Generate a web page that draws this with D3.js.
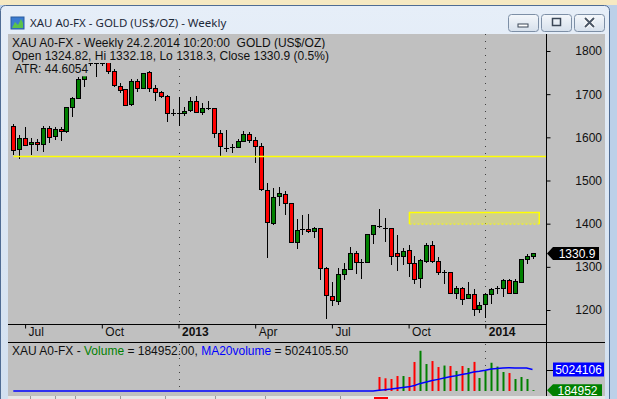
<!DOCTYPE html>
<html>
<head>
<meta charset="utf-8">
<script src="https://cdnjs.cloudflare.com/ajax/libs/d3/7.8.5/d3.min.js"></script>
<style>
body { margin: 0; background: #ffffff; }
svg { display: block; }
text { font-family: "Liberation Sans", Arial, sans-serif; font-size: 12px; }
</style>
</head>
<body>
<div id="chart"></div>
<script>
// weekly gold bars, first week starts Monday 18 June 2012
var firstWeek = "2012-06-18";
var opens = [1626, 1572, 1598, 1585, 1589, 1585, 1622, 1603, 1619, 1614,
             1670, 1690, 1735, 1770, 1774, 1772, 1780, 1754, 1720, 1711,
             1677, 1730, 1714, 1751, 1714, 1704, 1695, 1657, 1656, 1656,
             1663, 1684, 1658, 1667, 1667, 1609, 1578, 1576, 1577, 1591,
             1608, 1593, 1580, 1478, 1401, 1465, 1468, 1447, 1357, 1386,
             1387, 1382, 1389, 1297, 1233, 1220, 1283, 1294, 1331, 1312,
             1312, 1375, 1396, 1392, 1389, 1331, 1324, 1340, 1310, 1275,
             1314, 1350, 1314, 1287, 1288, 1240, 1250, 1228, 1236, 1202,
             1213, 1236, 1250, 1252, 1269, 1240, 1264, 1318, 1324.82];
var highs = [1631, 1605, 1623, 1598, 1596, 1626, 1626, 1625, 1625, 1671,
             1693, 1739, 1777, 1788, 1787, 1796, 1792, 1758, 1725, 1713,
             1735, 1735, 1750, 1753, 1721, 1707, 1697, 1665, 1693, 1670,
             1693, 1695, 1680, 1684, 1669, 1617, 1617, 1584, 1596, 1615,
             1612, 1600, 1588, 1494, 1482, 1484, 1476, 1448, 1411, 1420,
             1422, 1393, 1390, 1300, 1266, 1297, 1310, 1347, 1337, 1318,
             1376, 1397, 1433, 1412, 1391, 1374, 1343, 1351, 1326, 1318,
             1355, 1361, 1322, 1293, 1289, 1256, 1253, 1265, 1248, 1219,
             1240, 1250, 1255, 1271, 1271, 1271, 1319, 1330, 1332.18];
var lows = [1559, 1549, 1580, 1560, 1569, 1565, 1586, 1594, 1592, 1611,
            1648, 1688, 1717, 1765, 1740, 1765, 1747, 1717, 1702, 1673,
            1673, 1706, 1711, 1705, 1685, 1692, 1636, 1650, 1627, 1650,
            1659, 1656, 1652, 1663, 1598, 1555, 1565, 1563, 1575, 1589,
            1588, 1540, 1476, 1321, 1398, 1441, 1420, 1356, 1341, 1374,
            1379, 1367, 1270, 1180, 1210, 1212, 1270, 1293, 1283, 1272,
            1311, 1353, 1391, 1358, 1304, 1291, 1304, 1276, 1260, 1251,
            1310, 1308, 1281, 1260, 1237, 1225, 1211, 1225, 1187, 1194,
            1182, 1214, 1236, 1231, 1238, 1239, 1263, 1307, 1318.3];
var closes = [1570, 1598, 1582, 1589, 1585, 1622, 1600, 1619, 1614, 1670,
              1690, 1735, 1770, 1773, 1772, 1780, 1753, 1721, 1709, 1676,
              1730, 1714, 1748, 1714, 1704, 1695, 1656, 1656, 1656, 1662,
              1684, 1658, 1667, 1667, 1609, 1581, 1575, 1577, 1591, 1608,
              1593, 1581, 1480, 1405, 1461, 1470, 1447, 1358, 1385, 1387,
              1382, 1390, 1297, 1234, 1223, 1283, 1295, 1331, 1312, 1312,
              1375, 1396, 1395, 1390, 1324, 1324, 1336, 1310, 1271, 1315,
              1350, 1314, 1287, 1288, 1240, 1250, 1226, 1236, 1202, 1211,
              1236, 1248, 1251, 1269, 1240, 1267, 1318, 1324, 1330.9];

// volume is only reported from bar 62 on, earlier weeks are empty
var volumeFrom = 62;
var volumes = [3270000, 2970000, 2800000, 3500000, 3500000, 3270000, 6780000,
               9400000, 6300000, 7000000, 5600000, 5950000, 5840000, 4670000,
               5840000, 5370000, 6800000, 3040000, 4670000, 6600000, 5700000,
               4440000, 4200000, 2800000, 3270000, 2807158, 184952];

var priceTicks = [1200, 1300, 1400, 1500, 1600, 1700, 1800];
var dateTicks = ["2012-07-02", "2012-10-01", "2012-12-31", "2013-04-01",
                 "2013-07-01", "2013-09-30", "2013-12-30"];
var dateLabels = ["Jul", "Oct", "2013", "Apr", "Jul", "Oct", "2014"];
var yearStarts = ["2012-12-31", "2013-12-30"];

var supportLevel = 1556;
var zone = {from: "2013-10-01", to: "2014-03-04", top: 1426, bottom: 1399};

var parse = d3.timeParse("%Y-%m-%d");

var W = 617, H = 399;
var plotLeft = 8, axisX = 546, plotTop = 34, plotBottom = 324;
var dateBottom = 342, volBottom = 396;

var svg = d3.select("#chart").append("svg")
    .attr("width", W)
    .attr("height", H);

var weeks = opens.map(function (o, i) { return d3.timeMonday.offset(parse(firstWeek), i); });
var bars = opens.map(function (o, i) {
    var v = i >= volumeFrom ? volumes[i - volumeFrom] : 0;
    return {date: weeks[i], open: o, high: highs[i], low: lows[i], close: closes[i], volume: v};
});
bars.forEach(function (d, i) {
    var sum = 0;
    for (var k = Math.max(0, i - 19); k <= i; ++k) sum += bars[k].volume;
    d.ma = sum / 20;
});

var x = d3.scaleTime()
    .domain([weeks[0], weeks[weeks.length - 1]])
    .range([13.3, 532.5]);
var y = d3.scaleLinear()
    .domain([1200, 1800])
    .range([310, 51]);
var yv = d3.scaleLinear()
    .domain([0, 5024106])
    .range([391, 369.5]);

function px(v) { return Math.round(v) + 0.5; }

function drawWindow() {
    var defs = svg.append("defs");
    var tg = defs.append("linearGradient").attr("id", "titleGrad")
        .attr("x1", 0).attr("y1", 0).attr("x2", 0).attr("y2", 1);
    tg.append("stop").attr("offset", "0%").attr("stop-color", "#e6eef8");
    tg.append("stop").attr("offset", "100%").attr("stop-color", "#d2e0f0");
    var bg = defs.append("linearGradient").attr("id", "btnGrad")
        .attr("x1", 0).attr("y1", 0).attr("x2", 0).attr("y2", 1);
    bg.append("stop").attr("offset", "0%").attr("stop-color", "#f4f7fb");
    bg.append("stop").attr("offset", "100%").attr("stop-color", "#d6e0ec");

    // desktop behind the window
    svg.append("rect").attr("x", 0).attr("y", 0).attr("width", W).attr("height", H)
        .attr("fill", "#bcd0e8");
    svg.append("rect").attr("x", 0).attr("y", 0).attr("width", W).attr("height", 5)
        .attr("fill", "#f6e9c2");
    svg.append("rect").attr("x", 0.5).attr("y", 5.5).attr("width", 609).attr("height", H)
        .attr("rx", 5)
        .attr("fill", "url(#titleGrad)")
        .attr("stroke", "#4f6c94");

    // icon
    svg.append("rect").attr("x", 11).attr("y", 17).attr("width", 13).attr("height", 12)
        .attr("fill", "#3b7bd0").attr("stroke", "#2b5d9e");
    svg.append("path").attr("d", "M12,28 L15,22 L18,25 L21,19 L23,23 L23,28 Z")
        .attr("fill", "#5cc24a");
    svg.append("text").attr("x", 30).attr("y", 27)
        .style("font-family", "'Noto Sans', sans-serif").style("font-size", "11.5px")
        .attr("fill", "#1e2a3a")
        .text("XAU A0-FX - GOLD (US$/OZ) - Weekly");

    var buttons = [508, 541, 574];
    buttons.forEach(function (bx, k) {
        svg.append("rect").attr("x", bx + 0.5).attr("y", 14.5).attr("width", 30).attr("height", 17)
            .attr("rx", 3).attr("fill", "url(#btnGrad)").attr("stroke", "#7d8fa6");
        if (k == 0) {
            svg.append("rect").attr("x", bx + 10).attr("y", 24).attr("width", 10).attr("height", 3)
                .attr("fill", "#fff").attr("stroke", "#3a4656");
        } else if (k == 1) {
            svg.append("rect").attr("x", bx + 11.5).attr("y", 18.5).attr("width", 8).attr("height", 7)
                .attr("fill", "none").attr("stroke", "#3a4656").attr("stroke-width", 1.5);
        } else {
            svg.append("path").attr("d", "M" + (bx + 11) + ",18 L" + (bx + 20) + ",27 M" + (bx + 20) + ",18 L" + (bx + 11) + ",27")
                .attr("stroke", "#fff").attr("stroke-width", 4);
            svg.append("path").attr("d", "M" + (bx + 11) + ",18 L" + (bx + 20) + ",27 M" + (bx + 20) + ",18 L" + (bx + 11) + ",27")
                .attr("stroke", "#4a5666").attr("stroke-width", 2);
        }
    });

    // chart client area
    svg.append("rect").attr("x", plotLeft).attr("y", plotTop).attr("width", 597).attr("height", H - plotTop)
        .attr("fill", "#c0c0c0");
}

function drawPrices() {
    var clip = svg.append("clipPath").attr("id", "plotClip")
        .append("rect").attr("x", plotLeft).attr("y", plotTop)
        .attr("width", axisX - plotLeft).attr("height", plotBottom - plotTop);
    var g = svg.append("g").attr("clip-path", "url(#plotClip)");

    g.selectAll(".year").data(yearStarts).enter().append("line")
        .attr("x1", function (d) { return px(x(parse(d))); })
        .attr("x2", function (d) { return px(x(parse(d))); })
        .attr("y1", plotTop).attr("y2", plotBottom)
        .attr("stroke", "#404040").attr("stroke-dasharray", "1,6");

    g.append("rect")
        .attr("x", x(parse(zone.from)))
        .attr("y", y(zone.top))
        .attr("width", x(parse(zone.to)) - x(parse(zone.from)))
        .attr("height", y(zone.bottom) - y(zone.top))
        .attr("fill", "#ffff00").attr("fill-opacity", 0.25);
    var zx1 = x(parse(zone.from)), zx2 = x(parse(zone.to));
    g.append("path")
        .attr("d", "M" + zx1 + "," + y(zone.bottom) + " L" + zx1 + "," + y(zone.top) + " L" + zx2 + "," + y(zone.top) + " L" + zx2 + "," + y(zone.bottom))
        .attr("fill", "none").attr("stroke", "#ffff00").attr("stroke-width", 1.5);
    g.append("line")
        .attr("x1", zx1).attr("x2", zx2).attr("y1", y(zone.bottom)).attr("y2", y(zone.bottom))
        .attr("stroke", "#ffff00").attr("stroke-dasharray", "2,2");

    var candles = g.selectAll(".candle").data(bars).enter().append("g");
    candles.append("line")
        .attr("x1", function (d) { return px(x(d.date)); })
        .attr("x2", function (d) { return px(x(d.date)); })
        .attr("y1", function (d) { return Math.round(y(d.high)); })
        .attr("y2", function (d) { return Math.round(y(d.low)); })
        .attr("stroke", "black");
    candles.filter(function (d) { return Math.abs(y(d.open) - y(d.close)) >= 1.5; })
        .append("rect")
        .attr("x", function (d) { return px(x(d.date)) - 2; })
        .attr("y", function (d) { return px(y(Math.max(d.open, d.close))); })
        .attr("width", 4)
        .attr("height", function (d) { return Math.round(y(Math.min(d.open, d.close))) - Math.round(y(Math.max(d.open, d.close))); })
        .attr("fill", function (d) { return d.close >= d.open ? "#008000" : "#ff0000"; })
        .attr("stroke", "black");
    candles.filter(function (d) { return Math.abs(y(d.open) - y(d.close)) < 1.5; })
        .append("line")
        .attr("x1", function (d) { return px(x(d.date)) - 2.5; })
        .attr("x2", function (d) { return px(x(d.date)) + 2.5; })
        .attr("y1", function (d) { return px(y(d.close)); })
        .attr("y2", function (d) { return px(y(d.close)); })
        .attr("stroke", "black");

    g.append("line")
        .attr("x1", x(weeks[0])).attr("x2", axisX)
        .attr("y1", px(y(supportLevel))).attr("y2", px(y(supportLevel)))
        .attr("stroke", "#ffff00").attr("stroke-width", 1.3);

    var info = [
        {x: 12, y: 46.5, t: "XAU A0-FX - Weekly 24.2.2014 10:20:00  GOLD (US$/OZ)"},
        {x: 12, y: 60, t: "Open 1324.82, Hi 1332.18, Lo 1318.3, Close 1330.9 (0.5%)"},
        {x: 15, y: 73.3, t: "ATR: 44.6054"}
    ];
    info.forEach(function (d) {
        var t = svg.append("text").attr("x", d.x).attr("y", d.y)
            .style("white-space", "pre").attr("fill", "#101010").text(d.t);
        var b = t.node().getBBox();
        svg.insert("rect", function () { return t.node(); })
            .attr("x", b.x).attr("y", b.y).attr("width", b.width).attr("height", b.height)
            .attr("fill", "#c0c0c0");
    });
}

function drawAxes() {
    svg.append("line").attr("x1", plotLeft).attr("x2", axisX)
        .attr("y1", plotBottom + 0.5).attr("y2", plotBottom + 0.5).attr("stroke", "black");
    svg.append("line").attr("x1", plotLeft).attr("x2", 605)
        .attr("y1", dateBottom + 0.5).attr("y2", dateBottom + 0.5).attr("stroke", "black");
    svg.append("line").attr("x1", axisX + 0.5).attr("x2", axisX + 0.5)
        .attr("y1", plotTop).attr("y2", volBottom).attr("stroke", "black");

    var dAxis = svg.append("g")
        .attr("transform", "translate(0," + (plotBottom + 0.5) + ")")
        .call(d3.axisBottom(x)
            .tickValues(dateTicks.map(parse))
            .tickSize(4)
            .tickFormat(function (d, i) { return dateLabels[i]; }));
    dAxis.select(".domain").remove();
    dAxis.selectAll(".tick line").attr("stroke", "black");
    dAxis.selectAll(".tick text")
        .attr("x", 3).attr("y", 11).attr("dy", 0)
        .attr("text-anchor", "start")
        .attr("fill", "#101010")
        .style("font-family", "'Liberation Sans', Arial, sans-serif").style("font-size", "12px")
        .style("font-weight", function (d, i) { return dateLabels[i].length == 4 ? "bold" : "normal"; });

    var pAxis = svg.append("g")
        .attr("transform", "translate(" + (axisX + 0.5) + ",0)")
        .call(d3.axisRight(y).tickValues(priceTicks).tickSize(4).tickFormat(d3.format("d")));
    pAxis.select(".domain").remove();
    pAxis.selectAll(".tick line").attr("stroke", "black");
    pAxis.selectAll(".tick text")
        .attr("x", 55.5).attr("text-anchor", "end")
        .attr("fill", "#101010")
        .style("font-family", "'Liberation Sans', Arial, sans-serif").style("font-size", "12px");

    // last close marker
    var last = bars[bars.length - 1];
    var ly = y(last.close);
    svg.append("path")
        .attr("d", "M547," + ly + " L553," + (ly - 6.5) + " L599," + (ly - 6.5) + " L599," + (ly + 6.5) + " L553," + (ly + 6.5) + " Z")
        .attr("fill", "black");
    svg.append("text").attr("x", 577).attr("y", ly + 4.5).attr("text-anchor", "middle")
        .attr("fill", "white").text(d3.format(".1f")(last.close));
}

function drawVolume() {
    var g = svg.append("g");
    g.selectAll(".year").data(yearStarts).enter().append("line")
        .attr("x1", function (d) { return px(x(parse(d))); })
        .attr("x2", function (d) { return px(x(parse(d))); })
        .attr("y1", dateBottom + 2).attr("y2", volBottom - 4)
        .attr("stroke", "#404040").attr("stroke-dasharray", "1,6");

    g.selectAll(".vol").data(bars.filter(function (d) { return d.volume > 0; })).enter().append("rect")
        .attr("x", function (d) { return Math.round(x(d.date)) - 0.5; })
        .attr("y", function (d) { return yv(d.volume); })
        .attr("width", 2)
        .attr("height", function (d) { return yv(0) - yv(d.volume); })
        .attr("fill", function (d) { return d.close >= d.open ? "#008000" : "#ff0000"; });

    g.append("path").datum(bars)
        .attr("d", d3.line()
            .x(function (d) { return x(d.date); })
            .y(function (d) { return yv(d.ma); }))
        .attr("fill", "none").attr("stroke", "#0000ff").attr("stroke-width", 1.5);

    var t = svg.append("text").attr("x", 12).attr("y", 355).attr("fill", "#101010")
        .style("white-space", "pre");
    t.append("tspan").text("XAU A0-FX - ");
    t.append("tspan").attr("fill", "#008000").text("Volume");
    t.append("tspan").text(" = 184952.00, ");
    t.append("tspan").attr("fill", "#0000ff").text("MA20volume");
    t.append("tspan").text(" = 5024105.50");

    var last = bars[bars.length - 1];
    var my = yv(last.ma);
    svg.append("line").attr("x1", axisX).attr("x2", 553).attr("y1", px(my)).attr("y2", px(my))
        .attr("stroke", "black");
    svg.append("rect").attr("x", 553).attr("y", my - 7).attr("width", 51).attr("height", 14)
        .attr("fill", "#0000ff");
    svg.append("text").attr("x", 578.5).attr("y", my + 4.5).attr("text-anchor", "middle")
        .attr("fill", "white").text(d3.format("d")(Math.round(last.ma)));

    var vy = yv(last.volume);
    svg.append("path")
        .attr("d", "M547," + vy + " L553," + (vy - 6) + " L602," + (vy - 6) + " L602," + (vy + 6) + " L553," + (vy + 6) + " Z")
        .attr("fill", "#008000");
    svg.append("text").attr("x", 577.5).attr("y", vy + 4.5).attr("text-anchor", "middle")
        .attr("fill", "white").text(last.volume);

    // sheet tabs strip at the bottom
    svg.append("rect").attr("x", plotLeft).attr("y", volBottom).attr("width", 597).attr("height", 3)
        .attr("fill", "#e6e6e6");
    [30, 55, 75, 120, 165, 215, 265, 340].forEach(function (tx) {
        svg.append("line").attr("x1", tx + 0.5).attr("x2", tx + 0.5)
            .attr("y1", volBottom).attr("y2", H).attr("stroke", "#9a9a9a");
    });
    svg.append("rect").attr("x", 374).attr("y", volBottom + 1).attr("width", 14).attr("height", 2)
        .attr("fill", "#ff0000");
}

drawWindow();
drawPrices();
drawVolume();
drawAxes();
</script>
</body>
</html>
